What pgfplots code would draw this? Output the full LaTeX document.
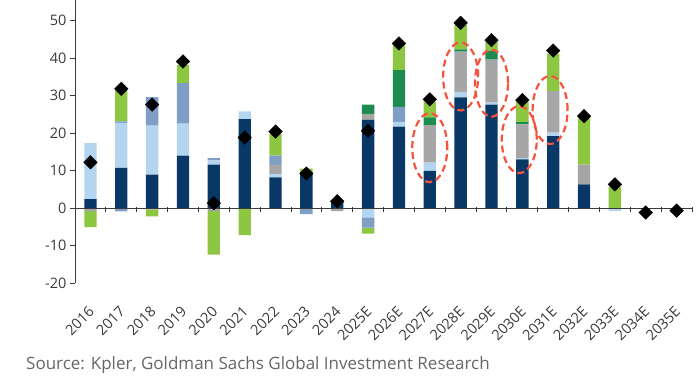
\documentclass[border=0pt]{standalone}
\usepackage{pgfplots}
\pgfplotsset{compat=1.18}
\usepackage{pgfplotstable}
\usepackage{fontspec}
\setmainfont{Open Sans}
\definecolor{navy}{HTML}{0A3866}
\definecolor{lblue}{HTML}{B4D5F0}
\definecolor{sblue}{HTML}{7F9EC6}
\definecolor{mgray}{HTML}{A6A6A6}
\definecolor{dgreen}{HTML}{1E8B4E}
\definecolor{lgreen}{HTML}{8DC641}
\definecolor{ered}{HTML}{F5533D}
\definecolor{axcol}{HTML}{3A3A3A}

\pgfplotstableread{
x navy lb gr sb dg lg nlb nsb ngr nlg dia
0 2.4 14.9 0 0 0 0 0 0 -0.8 -4.3 12.2
1 10.7 12.0 0 0.4 0 8.3 0 -0.9 0 0 31.8
2 8.9 13.1 0 7.6 0 0 0 0 -0.4 -1.8 27.6
3 14.0 8.5 0 10.8 0 4.9 0 0 0 0 39.1
4 11.6 1.1 0 0.6 0 0 0 0 -0.8 -11.6 1.3
5 23.7 2.1 0 0 0 0 0 0 0 -7.2 18.8
6 8.2 0.9 2.4 2.5 0 5.7 0 0 0 0 20.4
7 9.3 0 0 0 0 1.2 0 -1.6 0 0 9.2
8 2.0 0 0 0 0 0 0 0 -0.8 0 1.8
9 23.5 0 1.6 0 2.5 0 -2.5 -2.7 0 -1.6 20.6
10 21.7 1.3 0 4.0 9.8 7.1 0 0 0 0 43.9
11 9.9 2.2 10.0 0 2.1 4.2 0 0 0 0 29.0
12 29.5 1.5 10.7 0 0.6 6.5 0 0 0 0 49.4
13 27.6 0.5 11.5 0 2.4 2.4 0 0 0 0 44.8
14 13.0 0.3 9.0 0 0.6 5.5 0 0 0 0 28.8
15 19.2 0.9 11.1 0 0 10.0 0 0 0 0 42.0
16 6.3 0 5.3 0 0 12.3 0 0 0 0 24.5
17 0 0 0 0 0 5.7 -0.8 0 0 0 6.3
18 0 0 0 0 0 0 0 0 0 0 -1.2
19 0 0 0 0 0 0 0 0 0 0 -0.7
}\data

\begin{document}
\begin{tikzpicture}
\useasboundingbox (0,0) rectangle (700pt,375pt);
\begin{axis}[
  at={(75pt,92pt)}, anchor=south west,
  scale only axis, width=617pt, height=283pt,
  xmin=-0.5, xmax=19.5, ymin=-20, ymax=55.5,
  ybar stacked, bar width=0.4,
  axis y line=left, axis x line=bottom,
  x axis line style={draw=none},
  y axis line style={-, draw=axcol, line width=0.9pt},
  ytick={-20,-10,...,50},
  xtick={0,...,19},
  xticklabels={2016,2017,2018,2019,2020,2021,2022,2023,2024,2025E,2026E,2027E,2028E,2029E,2030E,2031E,2032E,2033E,2034E,2035E},
  xtick style={draw=none},
  ytick style={draw=axcol, line width=0.9pt},
  tick align=outside, major tick length=5pt,
  /pgf/number format/assume math mode=true,
  tick label style={font=\fontsize{14.5}{16}\selectfont, text=axcol},
  xticklabel style={rotate=45, anchor=north east, inner sep=1pt, xshift=-13pt, yshift=-9pt},
  every axis plot/.append style={draw=none},
]
\addplot[fill=lblue] table[x=x,y=nlb]{\data};
\addplot[fill=sblue] table[x=x,y=nsb]{\data};
\addplot[fill=mgray] table[x=x,y=ngr]{\data};
\addplot[fill=lgreen] table[x=x,y=nlg]{\data};
\addplot[fill=navy] table[x=x,y=navy]{\data};
\addplot[fill=lblue] table[x=x,y=lb]{\data};
\addplot[fill=mgray] table[x=x,y=gr]{\data};
\addplot[fill=sblue] table[x=x,y=sb]{\data};
\addplot[fill=dgreen] table[x=x,y=dg]{\data};
\addplot[fill=lgreen] table[x=x,y=lg]{\data};
\end{axis}
\begin{axis}[
  at={(75pt,92pt)}, anchor=south west,
  scale only axis, width=617pt, height=283pt,
  xmin=-0.5, xmax=19.5, ymin=-20, ymax=55.5,
  hide axis, clip=false,
]
\draw[axcol, line width=0.9pt] (axis cs:-0.5,0) -- (axis cs:19.5,0);
\pgfplotsinvokeforeach{0.5,1.5,...,19.5}{
  \draw[axcol, line width=0.9pt] (axis cs:#1,0.3) -- (axis cs:#1,-1.1);
}
\addplot[only marks, mark=square*, mark size=4.8pt, mark options={rotate=45, fill=black, draw=black}] table[x=x,y=dia]{\data};
\begin{scope}[ered, line width=2.2pt, dash pattern=on 7pt off 4pt]
\draw (axis cs:11,16.1) ellipse [x radius=17.5pt, y radius=34.5pt];
\draw (axis cs:12,35.1) ellipse [x radius=17.5pt, y radius=34pt];
\draw (axis cs:13,33.3) ellipse [x radius=16.5pt, y radius=33.5pt];
\draw (axis cs:13.9,18.25) ellipse [x radius=17.5pt, y radius=33.5pt];
\draw (axis cs:14.9,26.15) ellipse [x radius=17.5pt, y radius=34pt];
\end{scope}
\end{axis}
\node[anchor=base west, inner sep=0pt, text=black!60, font=\fontsize{17}{19}\selectfont] at (26pt,6pt) {Source: Kpler, Goldman Sachs Global Investment Research};
\end{tikzpicture}
\end{document}
